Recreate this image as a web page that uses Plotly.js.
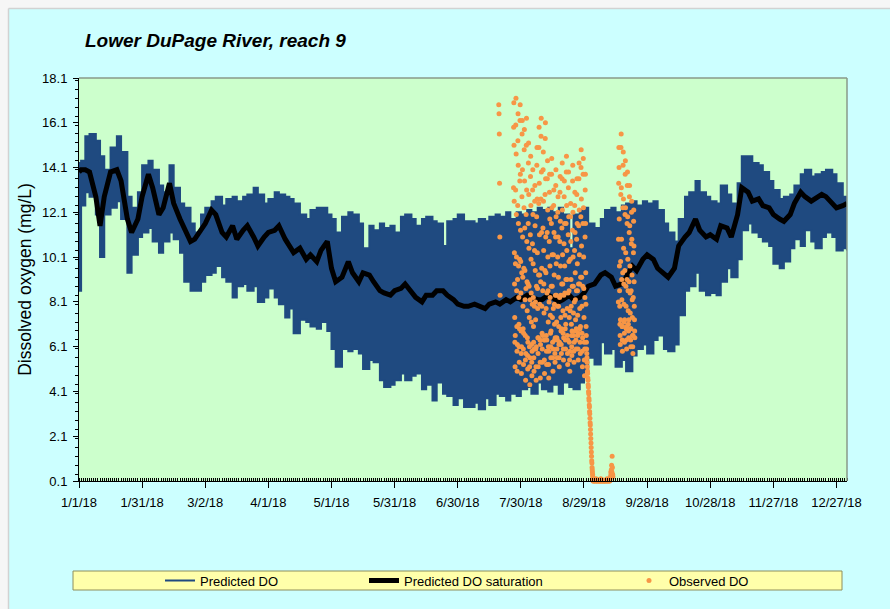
<!DOCTYPE html>
<html><head><meta charset="utf-8">
<script src="https://cdn.plot.ly/plotly-3.0.1.min.js"></script>
<style>html,body{margin:0;padding:0;background:#fff}#chart{width:890px;height:609px}</style>
</head><body><div id="chart"></div>
<script>
// ---- Predicted DO envelope (daily max / min) and predicted saturation, by day of 2018 ----
const predDay = [0,1,3,5,8,10,12,15,18,20,23,25,28,30,33,35,38,40,43,45,48,50,53,55,58,60,63,65,68,70,73,75,78,80,83,85,88,90,
  93,95,98,100,102,105,108,110,113,115,118,120,122,125,128,130,133,135,138,140,143,145,148,150,153,155,158,160,163,165,168,170,173,175,178,180,
  183,185,188,190,193,195,198,200,203,205,208,210,213,215,218,220,223,225,228,230,233,235,238,240,242,245,248,250,253,255,258,260,263,265,268,270,273,
  275,278,280,283,285,288,290,293,295,298,300,303,305,308,310,313,315,318,320,323,325,328,330,333,335,338,340,343,345,348,350,353,355,358,360,363,365];
const predUpper = [14.3,14.4,15.5,15.6,15.3,14.6,14.0,15.0,15.5,14.8,12.8,12.3,13.0,14.2,14.4,14.0,13.3,13.0,14.2,13.2,12.5,12.3,11.6,11.2,12.0,12.3,12.6,12.8,12.4,12.7,12.8,12.6,12.8,12.9,13.2,12.9,12.5,12.7,
  13.0,12.9,12.8,12.7,12.5,12.0,11.8,12.2,12.3,12.3,12.0,11.8,11.2,11.9,12.1,12.0,11.6,10.5,11.5,11.3,11.6,11.4,11.5,11.2,11.9,12.0,11.8,11.5,11.8,11.9,11.7,11.6,10.6,11.7,11.8,12.0,
  11.7,11.7,11.6,11.8,11.7,11.9,12.0,11.9,12.1,11.8,12.1,12.0,12.2,12.1,12.3,12.2,12.3,12.1,12.3,12.0,10.5,12.0,12.2,12.3,11.6,11.4,11.8,12.2,12.3,12.1,12.4,12.5,12.6,12.4,12.6,12.5,12.6,
  12.2,11.6,11.2,10.8,11.8,12.8,13.0,13.5,13.0,12.8,12.6,12.5,13.3,12.9,12.5,13.4,14.6,14.6,14.3,14.2,13.9,13.5,13.1,12.7,12.8,12.9,13.3,13.8,14.0,13.7,13.8,13.9,14.0,13.8,13.4,12.8,12.8];
const predLower = [8.6,12.4,13.0,12.8,12.0,10.1,12.0,12.3,12.6,11.8,9.4,10.2,11.0,11.2,11.4,10.8,10.3,10.8,11.2,10.9,10.3,9.0,8.6,8.6,9.0,9.3,9.4,9.7,9.2,9.0,8.3,8.8,8.9,8.6,8.8,8.1,8.3,8.7,
  8.3,8.0,7.4,7.8,6.7,7.3,7.2,7.0,6.9,7.2,6.8,6.0,5.2,6.0,5.9,6.0,5.8,5.1,5.5,5.4,4.6,4.3,4.4,4.6,4.9,4.6,4.8,4.9,4.2,4.4,3.7,4.5,4.0,3.9,3.5,3.8,
  3.4,3.4,3.6,3.3,3.8,3.5,4.0,3.9,3.7,4.0,3.9,4.2,4.3,4.0,4.5,4.2,4.1,4.4,4.0,4.5,4.3,4.2,4.5,5.0,5.6,5.3,6.3,5.8,6.0,5.2,5.5,5.0,5.7,6.0,6.2,5.8,6.4,
  6.6,6.0,5.9,6.2,7.5,8.6,8.8,9.4,8.6,8.4,8.5,8.4,9.0,9.6,9.2,10.0,11.3,11.6,11.2,11.0,10.8,10.6,9.8,9.6,9.9,10.5,10.9,10.6,11.3,10.8,10.5,11.0,11.2,11.0,10.4,10.5,10.4];
const predSat = [13.9,14.0,14.0,13.9,12.8,11.5,12.8,13.9,14.0,13.5,11.8,11.2,11.8,12.8,13.8,13.2,12.0,12.3,13.4,12.5,11.8,11.4,10.8,10.9,11.3,11.6,12.2,12.0,11.2,11.0,11.5,10.9,11.3,11.5,11.0,10.6,11.0,11.2,
  11.3,11.5,10.9,10.6,10.3,10.5,10.0,10.2,9.9,10.4,10.8,9.6,9.0,9.2,9.9,9.4,9.0,9.4,9.3,9.0,8.6,8.5,8.4,8.6,8.7,8.9,8.5,8.3,8.1,8.4,8.4,8.6,8.6,8.4,8.2,8.0,
  7.9,7.9,8.0,7.9,7.8,8.0,8.1,8.0,8.2,8.1,8.3,8.2,8.4,8.3,8.2,8.2,8.4,8.3,8.1,8.2,8.4,8.2,8.3,8.5,8.8,8.9,9.3,9.4,9.2,8.8,8.9,9.2,9.7,9.5,10.0,10.2,10.0,
  9.6,9.4,9.2,9.6,10.6,11.0,11.2,11.8,11.3,11.0,11.1,10.9,11.5,11.4,11.0,12.0,13.2,13.0,12.6,12.7,12.4,12.3,12.0,11.8,11.7,12.0,12.5,13.0,12.8,12.6,12.7,12.9,12.8,12.5,12.3,12.4,12.5];

// ---- Observed DO, logged in segments (start time, step in hours, readings) ----
const obsStarts = ['2018-07-19 12:00','2018-07-26 12:00','2018-09-02 12:00','2018-09-10 12:00','2018-09-14 08:00'];
const obsStepHours = [3, 2, 6, 3, 2];
const obsSeg1 = [16.9,16.5,15.6,13.4,11.0,8.4];
const obsSeg2 = [13.2,15.9,17.0,15.1,12.6,10.3,
  8.9,7.4,6.3,5.2,6.6,9.8,13.1,16.0,17.2,14.7,12.0,10.1,
  8.6,7.0,5.9,5.0,6.2,9.1,12.4,15.3,16.5,14.2,11.6,9.7,
  8.3,7.1,6.1,5.4,6.9,10.0,13.5,16.2,16.9,13.8,11.3,9.9,
  8.5,6.8,5.8,4.9,6.1,9.4,12.8,15.6,16.2,14.0,11.0,9.2,
  7.9,6.9,6.0,5.3,6.7,9.6,12.3,14.9,15.8,13.5,11.4,9.5,
  8.2,6.6,5.5,4.6,5.8,8.7,12.0,15.1,16.3,13.1,10.8,9.0,
  7.7,6.5,5.7,5.1,6.3,8.9,11.6,14.3,15.2,12.9,10.5,8.8,
  7.4,6.1,5.2,4.4,5.6,8.2,11.1,13.7,14.6,12.4,10.0,8.5,
  7.2,6.2,5.4,4.8,5.9,8.0,10.7,13.1,14.0,12.0,9.8,8.3,
  7.0,6.3,5.6,5.0,6.0,7.9,10.4,12.6,13.3,11.5,9.5,8.1,
  7.3,6.0,5.2,4.6,6.1,8.8,11.9,14.2,15.0,12.7,10.3,8.7,
  7.8,6.5,5.8,5.2,6.5,9.3,12.5,15.0,15.9,13.4,11.1,9.3,
  8.0,6.4,5.4,4.7,6.2,9.0,12.7,15.5,16.3,13.9,11.2,9.6,
  7.9,6.7,6.0,5.4,6.6,8.6,11.4,14.0,14.8,12.6,10.4,8.9,
  7.6,6.4,5.5,4.9,6.4,9.5,12.9,15.4,16.1,13.6,11.0,9.4,
  7.8,6.6,5.9,5.3,6.4,8.5,11.2,13.6,14.4,12.2,10.1,8.6,
  7.2,6.1,5.3,4.7,5.9,8.1,10.8,13.0,13.8,11.8,9.7,8.3,
  7.5,6.7,6.1,5.6,6.8,8.8,11.6,13.8,14.5,12.3,10.2,8.8,
  7.4,6.3,5.6,5.0,6.0,7.8,10.2,12.4,13.1,11.2,9.3,8.0,
  7.1,6.4,5.8,5.4,6.5,8.4,11.0,13.3,14.0,11.9,9.8,8.4,
  7.2,6.5,6.0,5.6,6.4,7.9,10.1,12.1,12.8,11.0,9.2,7.9,
  7.0,6.2,5.6,5.2,6.3,8.3,10.8,13.0,13.7,11.7,9.7,8.4,
  7.4,6.8,6.2,5.8,6.9,8.9,11.4,13.6,14.3,12.2,10.2,8.9,
  7.7,6.7,6.0,5.5,6.5,8.4,10.7,12.8,13.5,11.6,9.7,8.5,
  7.5,6.9,6.4,6.0,7.1,9.1,11.6,13.9,14.6,12.4,10.4,9.1,
  7.8,6.6,5.8,5.3,6.4,8.5,11.1,13.2,13.9,11.9,9.9,8.6,
  7.4,6.3,5.5,5.0,5.9,7.7,10.0,11.9,12.5,10.8,9.1,7.9,
  7.1,6.6,6.1,5.7,6.8,8.8,11.3,13.5,14.2,12.1,10.1,8.8,
  7.6,6.6,5.9,5.4,6.3,8.1,10.4,12.4,13.0,11.2,9.4,8.2,
  7.3,6.8,6.4,6.0,6.9,8.6,10.9,12.9,13.6,11.6,9.8,8.6,
  7.5,6.6,6.0,5.5,6.7,8.9,11.5,13.6,14.3,12.2,10.2,8.9,
  7.8,6.9,6.3,5.8,7.0,9.2,11.9,14.1,14.9,12.7,10.6,9.2,
  7.9,6.7,5.9,5.2,6.5,8.8,11.6,13.8,14.5,12.3,10.1,8.7,
  7.4,6.3,5.5,4.8,6.0,8.3,11.0,13.1,13.8,11.6,9.4,8.0,
  7.0,6.6,6.3,6.0,5.8,5.6,5.4,5.2,5.0,4.9,4.7,4.6,4.4,4.3,4.1,4.0,3.8,3.7,3.5,3.4,3.2,
  3.1,2.9,2.7,2.6,2.4,2.2,2.0,1.8,1.6,1.4,1.2,1.0,0.9,0.7,0.6,0.5,0.4,0.3,0.2,0.1];
const obsSeg3 = [0.1,0.1,0.15,0.1,0.1,0.2,0.1,0.1,0.1,0.15,0.1,0.1,0.1,0.1,0.2,0.1,0.1,0.1,0.15,0.1,0.1,0.1,0.1,0.15,0.1,0.1,0.2,0.1,0.1,0.15,0.1,0.1];
const obsSeg4 = [0.2,0.3,0.5,0.4,0.6,0.8,0.5,1.2,0.7,0.4,0.3];
const obsSeg5 = [8.1,10.9,13.4,15.0,14.1,11.8,9.7,8.6,
  7.9,7.1,6.6,6.2,7.3,9.9,12.9,15.0,15.6,13.2,10.9,9.1,
  8.2,7.0,6.4,5.9,7.0,9.4,12.3,14.2,14.8,12.7,10.5,8.9,
  8.0,7.2,6.7,6.3,7.3,9.5,12.0,13.8,14.4,12.3,10.3,8.8,
  7.9,6.9,6.4,6.0,7.0,9.1,11.6,13.3,13.9,11.9,10.0,8.6,
  7.7,7.1,6.8,6.5,7.3,9.0,11.2,12.8,13.3,11.5,9.7,8.5,
  7.6,6.9,6.4,6.1,6.9,8.6,10.7,12.1,12.6,10.9,9.3,8.2,
  7.4,6.6,6.1,5.8,6.6,8.3,10.3,11.7,12.2,10.6,9.0,7.9,
  7.3,6.8,6.5];

// ---- helpers ----
const DAY = 864e5;
const fmt = ms => new Date(ms).toISOString().slice(0,19).replace('T',' ');
const t0 = Date.UTC(2018,0,1);
const predX = predDay.map(d => fmt(t0 + d*DAY));
const obsSegs = [obsSeg1, obsSeg2, obsSeg3, obsSeg4, obsSeg5];
const obsX = [], obsY = [];
obsSegs.forEach((seg, k) => {
  const s = Date.parse(obsStarts[k].replace(' ','T') + ':00Z');
  seg.forEach((v, i) => { obsX.push(fmt(s + i*obsStepHours[k]*3600e3)); obsY.push(v); });
});

const BLUE = '#1f4a80', ORANGE = '#f79646';
const FONT = 'Liberation Sans, Arial, sans-serif';
const L = 79, R = 847, T = 78, B = 481, W = 890, H = 609;
const px = x => (x - L) / (R - L);
const py = y => (B - y) / (B - T);

const traces = [
  {x: predX, y: predUpper, mode: 'lines', name: 'Predicted DO', legend: 'legend',
   line: {color: BLUE, width: 2, shape: 'hv'}, hoverinfo: 'skip'},
  {x: predX, y: predLower, mode: 'lines', name: 'Predicted DO (min)', showlegend: false,
   fill: 'tonexty', fillcolor: BLUE, line: {color: BLUE, width: 2, shape: 'hv'}, hoverinfo: 'skip'},
  {x: predX, y: predSat, mode: 'lines', name: 'Predicted DO saturation', legend: 'legend2',
   line: {color: '#000000', width: 5}},
  {x: obsX, y: obsY, mode: 'markers', name: 'Observed DO', legend: 'legend3', cliponaxis: false,
   marker: {color: ORANGE, size: 5}}
];

const legendBase = {orientation: 'h', xanchor: 'left', yanchor: 'middle', y: py(580.5),
  bgcolor: 'rgba(0,0,0,0)', borderwidth: 0, font: {family: FONT, size: 13, color: '#000'}};

const layout = {
  width: W, height: H,
  margin: {l: L, r: W - R, t: T, b: H - B, pad: 0},
  paper_bgcolor: '#ccffff', plot_bgcolor: '#ccffcc',
  font: {family: FONT, size: 13, color: '#000'},
  title: {text: '<b><i>Lower DuPage River, reach 9</i></b>', font: {family: FONT, size: 19, color: '#000'},
          xref: 'paper', x: px(85), xanchor: 'left', yref: 'container', y: 1 - 40/H, yanchor: 'middle'},
  xaxis: {type: 'date', range: ['2018-01-01', '2019-01-01'], tick0: '2018-01-01', dtick: 30*DAY,
          tickformat: '%-m/%-d/%y', ticks: 'outside', ticklen: 6, tickcolor: '#000', tickwidth: 1,
          showline: true, linecolor: '#000', linewidth: 1, showgrid: false, zeroline: false,
          tickfont: {family: FONT, size: 13, color: '#000'}, ticklabelstandoff: 3,
          minor: {dtick: DAY, ticks: 'inside', ticklen: 3, tickcolor: '#000', tickwidth: 1, showgrid: false}},
  yaxis: {range: [0.1, 18.1], tick0: 0.1, dtick: 2, tickformat: '.1f',
          ticks: 'outside', ticklen: 5, tickcolor: '#000', tickwidth: 1,
          showline: true, linecolor: '#000', linewidth: 1, showgrid: false, zeroline: false,
          tickfont: {family: FONT, size: 13, color: '#000'}, ticklabelstandoff: 3,
          title: {text: 'Dissolved oxygen (mg/L)', font: {family: FONT, size: 17.5, color: '#000'}, standoff: 5},
          minor: {dtick: 0.4, ticks: 'outside', ticklen: 3, tickcolor: '#000', tickwidth: 1, showgrid: false}},
  showlegend: true,
  legend: Object.assign({}, legendBase, {x: px(160)}),
  legend2: Object.assign({}, legendBase, {x: px(364)}),
  legend3: Object.assign({}, legendBase, {x: px(629)}),
  shapes: [
    {type: 'rect', xref: 'paper', yref: 'paper', x0: px(0), x1: px(W), y0: py(0), y1: py(8.5), fillcolor: '#f6f6f6', line: {width: 0}},
    {type: 'rect', xref: 'paper', yref: 'paper', x0: px(0), x1: px(8.5), y0: py(H), y1: py(0), fillcolor: '#f6f6f6', line: {width: 0}},
    {type: 'line', xref: 'paper', yref: 'paper', x0: px(8.5), x1: px(W), y0: py(8.5), y1: py(8.5), line: {color: '#d2d2d2', width: 1.5}},
    {type: 'line', xref: 'paper', yref: 'paper', x0: px(8.5), x1: px(8.5), y0: py(8.5), y1: py(H), line: {color: '#d2d2d2', width: 1.5}},
    {type: 'rect', xref: 'paper', yref: 'paper', x0: px(73), x1: px(842), y0: py(590), y1: py(571), fillcolor: '#ffffaa', line: {color: '#8e8e5c', width: 1}},
    {type: 'line', xref: 'paper', yref: 'paper', x0: 0, x1: 1, y0: 1, y1: 1, line: {color: '#8a9a8a', width: 1.5}, layer: 'above'},
    {type: 'line', xref: 'paper', yref: 'paper', x0: 1, x1: 1, y0: 0, y1: 1, line: {color: '#8a9a8a', width: 1.5}, layer: 'above'}
  ]
};

Plotly.newPlot('chart', traces, layout, {displayModeBar: false, staticPlot: true});
</script>
</body></html>
